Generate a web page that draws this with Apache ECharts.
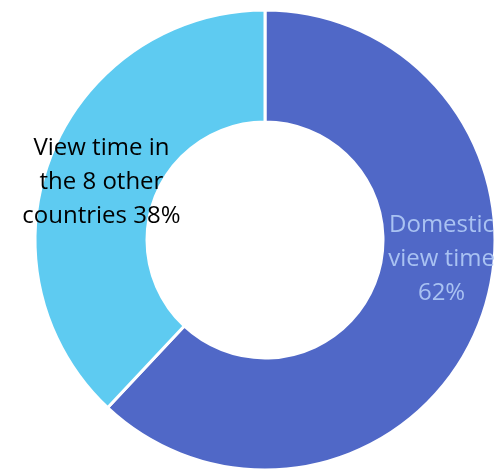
<!DOCTYPE html>
<html>
<head>
<meta charset="utf-8">
<script src="https://cdn.jsdelivr.net/npm/echarts@6/dist/echarts.min.js"></script>
<style>
  html, body { margin: 0; padding: 0; background: #ffffff; }
  #chart { width: 499px; height: 470px; }
</style>
</head>
<body>
<div id="chart"></div>
<script>
// View time split between the home market and the 8 other countries
const categories = ['Domestic\nview time', 'View time in\nthe 8 other\ncountries'];
const shares = [62, 38];
// text placed between the category name and its share
const valueSeparators = ['\n', ' '];
const colors = ['#5068C7', '#5ECBF1'];
const labelColors = ['#A9C2F2', '#000000'];
const labelOffsets = [[12, -46], [1, 7]];

const chart = echarts.init(document.getElementById('chart'), null, { renderer: 'canvas' });

const data = categories.map((name, i) => ({
  name: name,
  value: shares[i],
  itemStyle: { color: colors[i] },
  label: {
    color: labelColors[i],
    offset: labelOffsets[i],
    formatter: p => p.name + valueSeparators[i] + p.value + '%'
  }
}));

chart.setOption({
  animation: false,
  series: [{
    type: 'pie',
    center: [265, 240],
    radius: [118, 230],
    startAngle: 90,
    clockwise: true,
    data: data,
    itemStyle: { borderColor: '#ffffff', borderWidth: 3 },
    label: {
      show: true,
      position: 'inside',
      fontFamily: 'Open Sans',
      fontSize: 24,
      lineHeight: 34,
      align: 'center'
    },
    labelLine: { show: false },
    emphasis: { disabled: true }
  }]
});
</script>
</body>
</html>
